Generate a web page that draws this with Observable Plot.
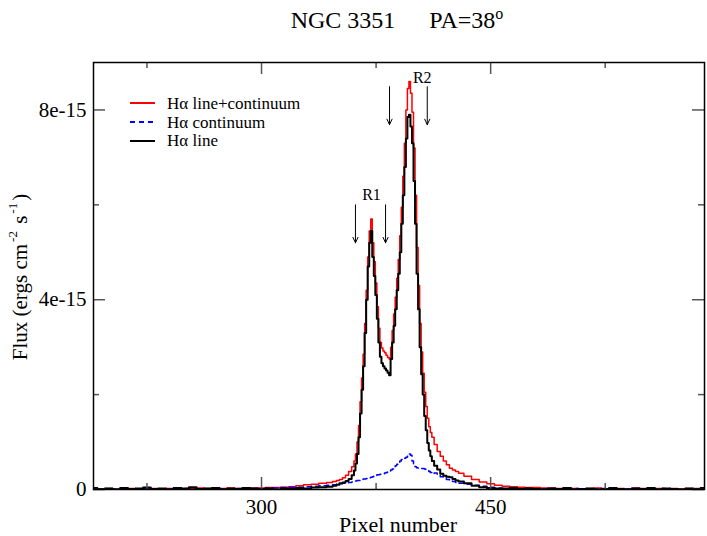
<!DOCTYPE html>
<html>
<head>
<meta charset="utf-8">
<script src="https://cdn.jsdelivr.net/npm/d3@7"></script>
<script src="https://cdn.jsdelivr.net/npm/@observablehq/plot@0.6"></script>
<style>
  html, body { margin: 0; padding: 0; background: #fff; }
  #wrap { position: relative; width: 707px; height: 536px; font-family: "Liberation Serif", "DejaVu Serif", serif; color: #000; }
  #title { position: absolute; left: 397px; top: 7px; transform: translateX(-50%); font-size: 24px; line-height: 1.15; white-space: nowrap; }
  #title .gap { display: inline-block; width: 34px; }
  #title sup { font-size: 16px; vertical-align: 9px; line-height: 0; }
  #ylabel { position: absolute; left: 20px; top: 277px; transform: translate(-50%, -50%) rotate(-90deg); font-size: 21px; white-space: nowrap; }
  #ylabel sup { font-size: 13px; vertical-align: 10px; line-height: 0; margin: 0 2px; }
  #xlabel { position: absolute; left: 398px; top: 512px; transform: translateX(-50%); font-size: 22px; line-height: 1.15; white-space: nowrap; }
  #legend { position: absolute; left: 130px; top: 94px; font-size: 17px; line-height: 19px; }
  #legend div { display: flex; align-items: center; height: 18.7px; }
  #legend svg { margin-right: 12px; }
  svg.plot { position: absolute; left: 0; top: 0; }
</style>
</head>
<body>
<div id="wrap"></div>
<script>
// ---------- data ----------
const FLUX_UNIT = 1e-15;

// pixel positions of the samples
const pixels = [
  190,195,200,205,210,215,220,225,230,235,240,245,250,255,260,265,270,275,280,285,290,295,300,305,310,315,320,325,330,335,340,345,
  348,350,352,354,356,358,
  360,361,362,363,364,365,366,367,368,369,370,371,372,373,374,375,376,377,378,379,380,381,382,383,384,385,386,387,388,389,
  390,391,392,393,394,395,396,397,398,399,400,401,402,403,404,405,406,407,408,409,410,411,412,
  414,416,418,420,422,424,426,428,430,
  435,440,445,450,455,460,465,470,475,480,485,490,495,500,505,510,515,520,525,530,535,540,545,550,555,560,565,570,575,580,585,590
];

// H-alpha line + continuum (units of 1e-15 ergs cm^-2 s^-1)
const lineContinuum = [
  0.02,0.01,0.02,0.01,0.03,0.02,0.01,0.03,0.02,0.01,0.02,0.03,0.01,0.02,0.03,0.02,0.01,0.02,0.03,0.02,0.02,0.03,0.03,0.04,0.04,0.05,0.06,0.08,0.10,0.11,0.13,0.15,
  0.17,0.19,0.21,0.25,0.30,0.38,
  0.48,0.60,0.75,1.00,1.35,1.85,2.35,2.85,3.50,4.20,4.90,5.45,5.70,5.20,4.80,4.35,3.85,3.40,3.10,2.98,2.92,2.88,2.83,2.78,2.75,3.00,3.35,3.70,4.05,4.45,
  4.85,5.35,5.95,6.60,7.30,8.00,8.45,8.60,8.35,7.95,7.20,6.20,5.10,4.30,3.50,2.90,2.45,2.05,1.75,1.50,1.32,1.20,1.10,
  0.95,0.80,0.70,0.60,0.52,0.45,0.41,0.38,0.34,
  0.28,0.21,0.16,0.12,0.09,0.07,0.06,0.05,0.04,0.04,0.03,0.03,0.02,0.03,0.02,0.01,0.02,0.03,0.01,0.02,0.02,0.01,0.03,0.02,0.01,0.02,0.01,0.02,0.01,0.02,0.02,0.01
];

// H-alpha continuum
const continuum = [
  0.00,0.01,0.00,0.01,0.00,0.01,0.00,0.02,0.00,0.01,0.01,0.00,0.02,0.01,0.01,0.00,0.02,0.01,0.01,0.02,0.02,0.02,0.02,0.03,0.03,0.04,0.05,0.05,0.06,0.07,0.08,0.09,
  0.10,0.11,0.12,0.13,0.14,0.15,
  0.16,0.17,0.18,0.19,0.19,0.20,0.21,0.22,0.22,0.23,0.24,0.25,0.26,0.27,0.28,0.29,0.31,0.31,0.32,0.32,0.33,0.35,0.36,0.37,0.39,0.41,0.43,0.46,0.50,0.53,
  0.56,0.60,0.63,0.64,0.66,0.68,0.70,0.75,0.72,0.60,0.52,0.48,0.46,0.45,0.45,0.44,0.44,0.43,0.42,0.40,0.38,0.36,0.33,
  0.35,0.31,0.27,0.24,0.21,0.19,0.17,0.15,0.13,
  0.11,0.09,0.07,0.05,0.03,0.02,0.02,0.01,0.02,0.01,0.01,0.02,0.00,0.01,0.02,0.01,0.00,0.01,0.02,0.01,0.00,0.01,0.02,0.01,0.00,0.01,0.02,0.01,0.00,0.01,0.01,0.00
];

// H-alpha line
const lineOnly = [
  0.03,0.01,0.02,0.00,0.03,0.01,0.02,0.04,0.01,0.02,0.00,0.03,0.02,0.05,0.01,0.02,0.03,0.00,0.02,0.01,0.03,0.02,0.01,0.02,0.00,0.02,0.01,0.03,0.02,0.04,0.05,0.06,
  0.08,0.10,0.13,0.15,0.18,0.22,
  0.30,0.40,0.55,0.75,1.10,1.60,2.10,2.60,3.30,4.00,4.70,5.20,5.45,4.90,4.50,4.10,3.60,3.10,2.80,2.66,2.60,2.55,2.51,2.46,2.41,2.75,3.10,3.45,3.80,4.20,
  4.55,5.00,5.60,6.20,6.80,7.40,7.85,7.90,7.65,7.30,6.50,5.60,4.55,3.80,3.00,2.43,2.00,1.55,1.25,0.98,0.82,0.70,0.60,
  0.50,0.42,0.33,0.29,0.27,0.26,0.22,0.19,0.17,
  0.13,0.08,0.05,0.03,0.02,0.02,0.03,0.01,0.02,0.01,0.00,0.02,0.01,0.03,0.00,0.01,0.02,0.00,0.01,0.03,0.01,0.00,0.02,0.01,0.03,0.00,0.02,0.01,0.00,0.02,0.01,0.03
];

const seriesNames = ["H\u03b1 line+continuum", "H\u03b1 continuum", "H\u03b1 line"];
const seriesColors = ["#ff0000", "#0000ff", "#000000"];

const xMajorTicks = [300, 450];
const xMinorTicks = [225, 375, 525];
const yMajorTicks = [0, 4, 8];   // in units of 1e-15
const yMinorTicks = [2, 6];

// region markers
const arrowPixel = [361.5, 381.2, 383.8, 408.5];
const arrowTop = [6.0, 6.0, 8.49, 8.49];
const arrowBottom = [5.2, 5.2, 7.69, 7.69];
const regionLabels = ["R1", "R2"];
const regionLabelPixel = [372, 405.2];
const regionLabelFlux = [6.2, 8.68];

// ---------- layout ----------
const W = 707, H = 536;
const mL = 93, mR = 3, mT = 62, mB = 47;
const innerW = W - mL - mR, innerH = H - mT - mB;
const majorLen = 12, minorLen = 6;

const rows = pixels.map((p, i) => ({
  px: p,
  total: lineContinuum[i] * FLUX_UNIT,
  cont: continuum[i] * FLUX_UNIT,
  line: lineOnly[i] * FLUX_UNIT
}));
const arrows = arrowPixel.map((p, i) => ({x: p, y1: arrowTop[i] * FLUX_UNIT, y2: arrowBottom[i] * FLUX_UNIT}));
const labels = regionLabels.map((t, i) => ({t, x: regionLabelPixel[i], y: regionLabelFlux[i] * FLUX_UNIT}));
const yMaj = yMajorTicks.map(v => v * FLUX_UNIT);
const yMin = yMinorTicks.map(v => v * FLUX_UNIT);
const tickColor = "#555";

const chart = Plot.plot({
  width: W, height: H,
  marginLeft: mL, marginRight: mR, marginTop: mT, marginBottom: mB,
  style: {fontFamily: "'Liberation Serif', 'DejaVu Serif', serif", fontSize: "21px", background: "transparent", color: "#000", overflow: "visible"},
  x: {domain: [190, 590]},
  y: {domain: [0, 9 * FLUX_UNIT]},
  marks: [
    Plot.line(rows, {x: "px", y: "total", curve: "step", stroke: seriesColors[0], strokeWidth: 1.5, clip: true}),
    Plot.line(rows, {x: "px", y: "cont", curve: "step", stroke: seriesColors[1], strokeWidth: 1.5, strokeDasharray: "5,4", clip: true}),
    Plot.line(rows, {x: "px", y: "line", curve: "step", stroke: seriesColors[2], strokeWidth: 2, clip: true}),
    // inward ticks: bottom & top
    Plot.tickX(xMajorTicks, {x: d => d, insetTop: innerH - majorLen, stroke: tickColor, strokeWidth: 1.5}),
    Plot.tickX(xMinorTicks, {x: d => d, insetTop: innerH - minorLen, stroke: tickColor, strokeWidth: 1.5}),
    Plot.tickX(xMajorTicks, {x: d => d, insetBottom: innerH - majorLen, stroke: tickColor, strokeWidth: 1.5}),
    Plot.tickX(xMinorTicks, {x: d => d, insetBottom: innerH - minorLen, stroke: tickColor, strokeWidth: 1.5}),
    // inward ticks: left & right
    Plot.tickY(yMaj, {y: d => d, insetRight: innerW - majorLen, stroke: tickColor, strokeWidth: 1.5}),
    Plot.tickY(yMin, {y: d => d, insetRight: innerW - minorLen, stroke: tickColor, strokeWidth: 1.5}),
    Plot.tickY(yMaj, {y: d => d, insetLeft: innerW - majorLen, stroke: tickColor, strokeWidth: 1.5}),
    Plot.tickY(yMin, {y: d => d, insetLeft: innerW - minorLen, stroke: tickColor, strokeWidth: 1.5}),
    Plot.frame({stroke: "#000", strokeWidth: 1.5}),
    Plot.axisX(xMajorTicks, {tickSize: 0, tickPadding: 10, label: null, fontSize: 21}),
    Plot.axisY(yMaj, {tickSize: 0, tickPadding: 7, label: null, fontSize: 21,
      tickFormat: d => d === 0 ? "0" : `${Math.round(d / FLUX_UNIT)}e-15`}),
    Plot.arrow(arrows, {x1: "x", x2: "x", y1: "y1", y2: "y2", stroke: "#000", strokeWidth: 1, headLength: 9, headAngle: 50}),
    Plot.text(labels, {x: "x", y: "y", text: "t", fontSize: 16, fill: "#000"})
  ]
});

const wrap = document.getElementById("wrap");
wrap.appendChild(chart);

const title = document.createElement("div");
title.id = "title";
title.innerHTML = 'NGC 3351<span class="gap"></span>PA=38<sup>o</sup>';
wrap.appendChild(title);

const ylab = document.createElement("div");
ylab.id = "ylabel";
ylab.innerHTML = "Flux (ergs cm<sup>-2</sup> s<sup>-1</sup>)";
wrap.appendChild(ylab);

const xlab = document.createElement("div");
xlab.id = "xlabel";
xlab.textContent = "Pixel number";
wrap.appendChild(xlab);

const legend = document.createElement("div");
legend.id = "legend";
seriesNames.forEach((name, i) => {
  const row = document.createElement("div");
  const dash = i === 1 ? 'stroke-dasharray="5,4"' : "";
  row.innerHTML = `<svg width="25" height="4"><line x1="0" y1="2" x2="25" y2="2" stroke="${seriesColors[i]}" stroke-width="2" ${dash}/></svg><span>${name}</span>`;
  legend.appendChild(row);
});
wrap.appendChild(legend);
</script>
</body>
</html>
